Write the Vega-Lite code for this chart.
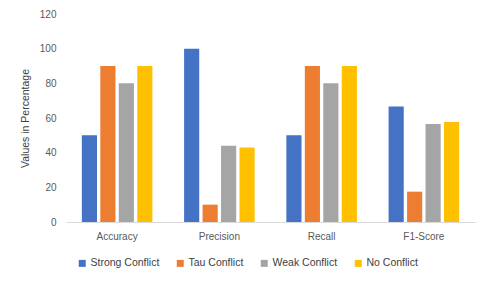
{
  "$schema": "https://vega.github.io/schema/vega-lite/v6.json",
  "width": 409,
  "height": 208,
  "autosize": {"type": "none"},
  "padding": {"left": 66, "top": 14, "right": 14, "bottom": 64},
  "background": "white",
  "data": {"values": [
    {"metric": "Accuracy", "series": "Strong Conflict", "value": 50},
    {"metric": "Accuracy", "series": "Tau Conflict", "value": 90},
    {"metric": "Accuracy", "series": "Weak Conflict", "value": 80},
    {"metric": "Accuracy", "series": "No Conflict", "value": 90},
    {"metric": "Precision", "series": "Strong Conflict", "value": 100},
    {"metric": "Precision", "series": "Tau Conflict", "value": 10},
    {"metric": "Precision", "series": "Weak Conflict", "value": 44},
    {"metric": "Precision", "series": "No Conflict", "value": 43},
    {"metric": "Recall", "series": "Strong Conflict", "value": 50},
    {"metric": "Recall", "series": "Tau Conflict", "value": 90},
    {"metric": "Recall", "series": "Weak Conflict", "value": 80},
    {"metric": "Recall", "series": "No Conflict", "value": 90},
    {"metric": "F1-Score", "series": "Strong Conflict", "value": 66.7},
    {"metric": "F1-Score", "series": "Tau Conflict", "value": 17.5},
    {"metric": "F1-Score", "series": "Weak Conflict", "value": 56.5},
    {"metric": "F1-Score", "series": "No Conflict", "value": 57.7}
  ]},
  "mark": {"type": "bar"},
  "encoding": {
    "x": {
      "field": "metric", "type": "nominal",
      "sort": ["Accuracy", "Precision", "Recall", "F1-Score"],
      "scale": {"paddingInner": 0.31, "paddingOuter": 0.155},
      "axis": {"title": null, "labelAngle": 0, "ticks": false, "domainColor": "#D9D9D9", "labelPadding": 9, "labelColor": "#595959", "labelFontSize": 10, "labelFont": "Liberation Sans"}
    },
    "xOffset": {
      "field": "series", "type": "nominal",
      "sort": ["Strong Conflict", "Tau Conflict", "Weak Conflict", "No Conflict"],
      "scale": {"paddingInner": 0.18, "paddingOuter": 0}
    },
    "y": {
      "field": "value", "type": "quantitative",
      "scale": {"domain": [0, 120], "nice": false},
      "axis": {"title": "Values in Percentage", "values": [0, 20, 40, 60, 80, 100, 120], "grid": false, "domain": false, "ticks": false, "labelPadding": 10, "labelColor": "#595959", "labelFontSize": 10, "labelFont": "Liberation Sans", "titleColor": "#404040", "titleFontSize": 10.5, "titleFontWeight": "normal", "titleFont": "Liberation Sans", "titlePadding": 9}
    },
    "color": {
      "field": "series", "type": "nominal",
      "sort": ["Strong Conflict", "Tau Conflict", "Weak Conflict", "No Conflict"],
      "scale": {"domain": ["Strong Conflict", "Tau Conflict", "Weak Conflict", "No Conflict"], "range": ["#4472C4", "#ED7D31", "#A5A5A5", "#FFC000"]},
      "legend": {"title": null, "orient": "none", "direction": "horizontal", "legendX": 11, "legendY": 244, "symbolType": "square", "symbolSize": 49, "symbolStrokeWidth": 0, "labelFontSize": 10.5, "labelFont": "Liberation Sans", "labelColor": "#404040", "labelOffset": 3, "columnPadding": 15}
    }
  },
  "config": {"view": {"stroke": null}}
}
